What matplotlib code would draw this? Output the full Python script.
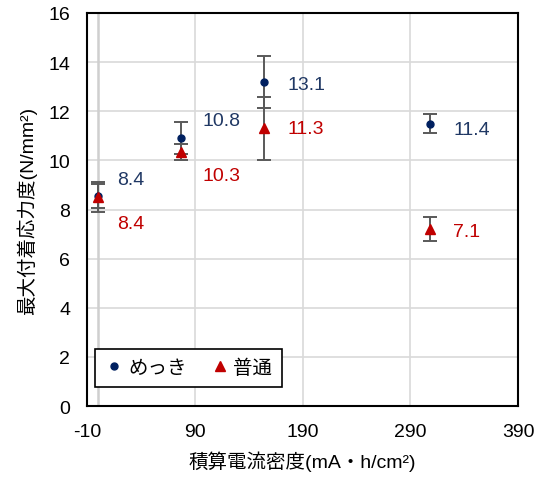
import matplotlib.pyplot as plt
from matplotlib.lines import Line2D
import numpy as np

plt.rcParams['font.family'] = ['Liberation Sans', 'Noto Sans CJK JP']
plt.rcParams['font.size'] = 14
plt.rcParams['axes.unicode_minus'] = False

# data
x_vals = [0, 77, 154, 308]
mekki = [8.55, 10.9, 13.2, 11.5]
mekki_err = [0.5, 0.65, 1.05, 0.4]
futsu = [8.5, 10.35, 11.3, 7.2]
futsu_err = [0.6, 0.33, 1.3, 0.48]
mekki_lbl = ['8.4', '10.8', '13.1', '11.4']
futsu_lbl = ['8.4', '10.3', '11.3', '7.1']

# label offsets in points (dx, dy)
mekki_off = [(14, 12), (16, 13), (17, -2), (17, -4)]
futsu_off = [(14, -19), (16, -17), (17, 0), (17, -2)]

blue = '#002060'
red = '#C00000'
ebc = '#595959'

fig = plt.figure(figsize=(5.45, 4.81), dpi=100)
ax = fig.add_axes([0.1596, 0.1538, 0.7909, 0.8171])

ax.grid(True, color='#d9d9d9', lw=1.2)
ax.set_axisbelow(True)
ax.axvline(0, color='#cfcfcf', lw=1.8, zorder=1)

ax.errorbar(x_vals, mekki, yerr=mekki_err, fmt='o', color=blue, ms=5,
            ecolor=ebc, elinewidth=1.4, capsize=5, capthick=1.4, zorder=3)
ax.errorbar(x_vals, futsu, yerr=futsu_err, fmt='^', color=red, ms=7,
            ecolor=ebc, elinewidth=1.4, capsize=5, capthick=1.4, zorder=3)

for x, y, t, o in zip(x_vals, mekki, mekki_lbl, mekki_off):
    ax.annotate(t, (x, y), xytext=o, textcoords='offset points', color='#203864',
                ha='left', va='center', fontsize=14)
for x, y, t, o in zip(x_vals, futsu, futsu_lbl, futsu_off):
    ax.annotate(t, (x, y), xytext=o, textcoords='offset points', color=red,
                ha='left', va='center', fontsize=14)

ax.set_xlim(-10, 390)
ax.set_ylim(0, 16)
ax.set_xticks(np.arange(-10, 391, 100))
ax.set_yticks(np.arange(0, 17, 2))
ax.tick_params(length=0, pad=12, labelsize=14)
for s in ax.spines.values():
    s.set_color('black')
    s.set_linewidth(1.5)

ax.set_xlabel('積算電流密度(mA・h/cm²)', fontsize=14, labelpad=8)
ax.set_ylabel('最大付着応力度(N/mm²)', fontsize=14, labelpad=8)

handles = [Line2D([], [], ls='none', marker='o', color=blue, ms=5),
           Line2D([], [], ls='none', marker='^', color=red, ms=7)]
leg = ax.legend(handles, ['めっき', '普通'], loc='upper left',
                bbox_to_anchor=(0.0186, 0.145), borderaxespad=0,
                ncol=2, handletextpad=0.2, columnspacing=1.2, handlelength=1.0,
                borderpad=0.5, fancybox=False, framealpha=1, edgecolor='black', fontsize=14)
leg.get_frame().set_linewidth(1.2)

fig.savefig('out.png', dpi=100)
